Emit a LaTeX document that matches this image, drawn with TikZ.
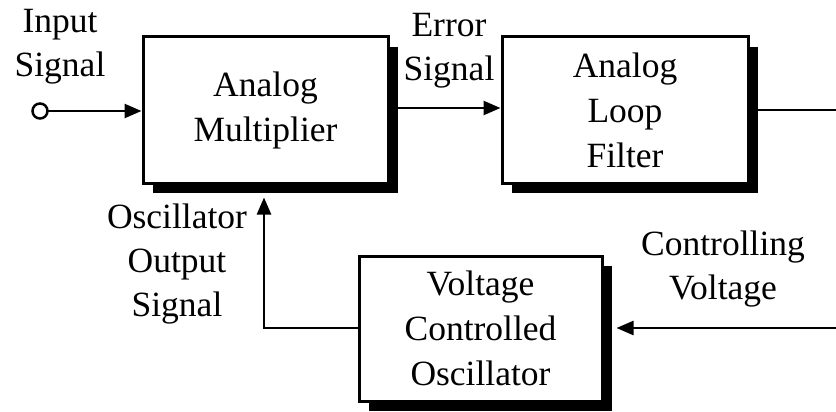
\documentclass[tikz,border=0pt]{standalone}
\usepackage{fontspec}
\setmainfont{Liberation Serif}
\usetikzlibrary{arrows.meta,shadows}
\tikzset{
  blk/.style={draw=black, line width=3pt, fill=white, align=center,
    font=\fontsize{35.5}{45}\selectfont, inner sep=0pt,
    drop shadow={shadow xshift=10pt, shadow yshift=-10pt, opacity=1, fill=black}},
  lbl/.style={align=center, font=\fontsize{35.5}{44}\selectfont, inner sep=0pt},
  conn/.style={line width=2.5pt, line cap=rect},
  arr/.style={conn, -{Triangle[length=17pt,width=14pt]}},
}
\begin{document}
\begin{tikzpicture}[x=1pt,y=-1pt]
\useasboundingbox (0,0) rectangle (836,412);
\node[blk, minimum width=245pt, minimum height=146pt] (mult) at (265.5,110) {Analog\\Multiplier};
\node[blk, minimum width=246pt, minimum height=146pt] (filt) at (625,110) {Analog\\Loop\\Filter};
\node[blk, minimum width=243pt, minimum height=145pt] (vco) at (480.5,328.5) {Voltage\\Controlled\\Oscillator};
\node[draw, circle, line width=2.5pt, minimum size=15pt, inner sep=0pt, fill=white] (in) at (40,111) {};
\node[lbl] (lin) at (60,47) {Input\\Signal};
\node[lbl] (lerr) at (449,51) {Error\\Signal};
\node[lbl] (losc) at (177,264) {Oscillator\\Output\\Signal};
\node[lbl] (lctl) at (723,269) {Controlling\\Voltage};
\coordinate (rt) at (838,110);
\coordinate (rb) at (838,328);
\coordinate (lb) at (264,328);
\draw[arr] (in.east) -- (in.east -| mult.west);
\draw[arr] ([xshift=10pt]mult.east |- 0,108) -- (filt.west |- 0,108);
\draw[conn] ([xshift=10pt]filt.east) -- (rt) -- (rb);
\draw[arr] (rb) -- ([xshift=13pt]vco.east |- rb);
\draw[conn] (vco.west |- lb) -- (lb);
\draw[arr] (lb) -- ([yshift=-13pt]mult.south -| lb);
\end{tikzpicture}
\end{document}
